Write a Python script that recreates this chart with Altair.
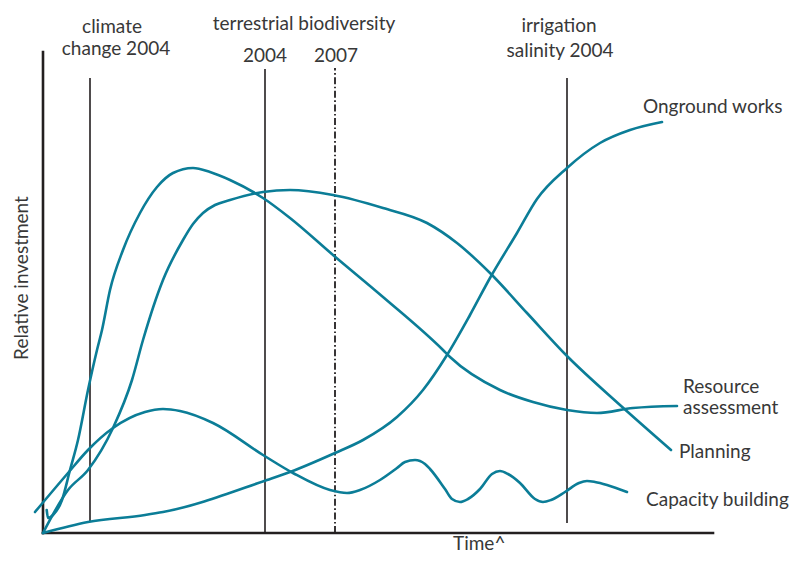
import altair as alt
import pandas as pd

# ---- curve values (time units, relative investment units) ----
resource_t = [3.7, 5, 10, 19, 27, 35, 45, 54, 59, 67, 80, 97, 114, 130, 150, 167, 187, 220, 247, 290, 340, 400, 407, 457, 490, 524, 554, 590, 634]
resource_v = [23, 15, 18, 33, 63, 93, 143, 183, 203, 243, 283, 320, 346, 360, 365, 361, 353, 335, 315, 278, 236, 183, 176, 143, 131, 123, 120, 125, 127]

planning_t = [0, 25, 45, 70, 89, 100, 120, 140, 150, 160, 172, 187, 220, 247, 290, 340, 384, 414, 447, 484, 524, 577, 628]
planning_v = [0, 43, 63, 105, 153, 193, 253, 293, 309, 320, 328, 333, 341, 343, 338, 325, 310, 290, 260, 220, 177, 128, 83]

capacity_t = [-8, 25, 45, 70, 102, 120, 137, 170, 220, 250, 287, 304, 317, 337, 354, 362, 372, 382, 387, 402, 409, 417, 425, 437, 449, 457, 465, 477, 492, 500, 508, 522, 536, 544, 552, 564, 584]
capacity_v = [21, 60, 83, 105, 121, 124, 122, 110, 78, 60, 43, 40, 43, 53, 65, 71, 73, 69, 64, 44, 34, 31, 34, 44, 59, 62, 59, 50, 34, 31, 33, 41, 50, 52, 51, 48, 41]

onground_t = [0, 45, 102, 120, 224, 247, 292, 320, 354, 380, 404, 427, 447, 474, 494, 524, 557, 587, 619]
onground_v = [0, 11, 18, 21, 53, 61, 80, 93, 116, 143, 178, 218, 255, 300, 334, 365, 390, 403, 411]

# ---- program markers (time, line top, line bottom) ----
marker_names = ["climate change 2004", "terrestrial biodiversity 2004", "terrestrial biodiversity 2007", "irrigation salinity 2004"]
marker_t = [47, 222, 292, 524]
marker_top = [455, 464, 465, 455]
marker_bottom = [11, 0, 0, 10]
marker_dashed = [False, False, True, False]

# ---- text ----
top_labels = ["climate", "change 2004", "terrestrial biodiversity", "2004", "2007", "irrigation", "salinity 2004"]
top_label_t = [69, 73, 261, 222, 293, 516, 517]
top_label_v = [500, 478, 503, 471, 471, 501, 476]

series_labels = ["Onground works", "Resource", "assessment", "Planning", "Capacity building"]
series_label_t = [600, 640, 640, 636, 603]
series_label_v = [420, 140, 119, 75, 27]

TEAL = "#0b7d97"
INK = "#383838"
AXIS = "#231f20"
FONT = "Lato"

rows = []
for name, ts, vs in [("Resource assessment", resource_t, resource_v),
                     ("Planning", planning_t, planning_v),
                     ("Capacity building", capacity_t, capacity_v),
                     ("Onground works", onground_t, onground_v)]:
    for t, v in zip(ts, vs):
        rows.append({"series": name, "t": t, "v": v})
curves_df = pd.DataFrame(rows)

markers_df = pd.DataFrame({"name": marker_names, "t": marker_t, "top": marker_top,
                           "bottom": marker_bottom, "dashed": marker_dashed})
top_df = pd.DataFrame({"text": top_labels, "t": top_label_t, "v": top_label_v})
series_df = pd.DataFrame({"text": series_labels, "t": series_label_t, "v": series_label_v})
axes_df = pd.DataFrame({"t": [0, 0], "v": [0, 0], "t2": [0, 670], "v2": [481, 0]})

xs = alt.Scale(domain=[0, 670], nice=False, zero=False)
ys = alt.Scale(domain=[0, 481], nice=False, zero=False)

axes = alt.Chart(axes_df).mark_rule(color=AXIS, strokeWidth=2.6, strokeCap="square").encode(
    x=alt.X("t:Q", scale=xs, axis=None), x2="t2:Q",
    y=alt.Y("v:Q", scale=ys, axis=None), y2="v2:Q")

solid_markers = alt.Chart(markers_df).transform_filter("!datum.dashed").mark_rule(
    color=AXIS, strokeWidth=1.6).encode(
    x=alt.X("t:Q", scale=xs, axis=None),
    y=alt.Y("bottom:Q", scale=ys, axis=None), y2="top:Q")

dashed_markers = alt.Chart(markers_df).transform_filter("datum.dashed").mark_rule(
    color=AXIS, strokeWidth=1.8, strokeDash=[7, 2.5, 1.6, 2.5]).encode(
    x=alt.X("t:Q", scale=xs, axis=None),
    y=alt.Y("bottom:Q", scale=ys, axis=None), y2="top:Q")

curves = alt.Chart(curves_df).mark_line(color=TEAL, strokeWidth=2.6, interpolate="monotone",
                                        strokeCap="round").encode(
    x=alt.X("t:Q", scale=xs, axis=None),
    y=alt.Y("v:Q", scale=ys, axis=None),
    detail="series:N")

top_text = alt.Chart(top_df).mark_text(font=FONT, fontSize=19, color=INK, align="center",
                                       baseline="alphabetic").encode(
    x=alt.X("t:Q", scale=xs, axis=None), y=alt.Y("v:Q", scale=ys, axis=None), text="text:N")

series_text = alt.Chart(series_df).mark_text(font=FONT, fontSize=19, color=INK, align="left",
                                             baseline="alphabetic").encode(
    x=alt.X("t:Q", scale=xs, axis=None), y=alt.Y("v:Q", scale=ys, axis=None), text="text:N")

y_title = alt.Chart(pd.DataFrame({"text": ["Relative investment"], "t": [-21], "v": [255]})).mark_text(
    font=FONT, fontSize=19, color=INK, angle=270, align="center", baseline="middle").encode(
    x=alt.X("t:Q", scale=xs, axis=None), y=alt.Y("v:Q", scale=ys, axis=None), text="text:N")

x_title = alt.Chart(pd.DataFrame({"text": ["Time^"], "t": [410], "v": [-17]})).mark_text(
    font=FONT, fontSize=19, color=INK, align="left", baseline="alphabetic").encode(
    x=alt.X("t:Q", scale=xs, axis=None), y=alt.Y("v:Q", scale=ys, axis=None), text="text:N")

chart = alt.layer(axes, solid_markers, dashed_markers, curves, top_text, series_text, y_title, x_title).properties(
    width=670, height=481,
    autosize=alt.AutoSizeParams(type="none"),
    padding={"left": 35, "top": 44, "right": 80, "bottom": 24},
    background="white",
).configure_view(stroke=None)

chart.save("out.html", embed_options={"renderer": "svg", "actions": False})
